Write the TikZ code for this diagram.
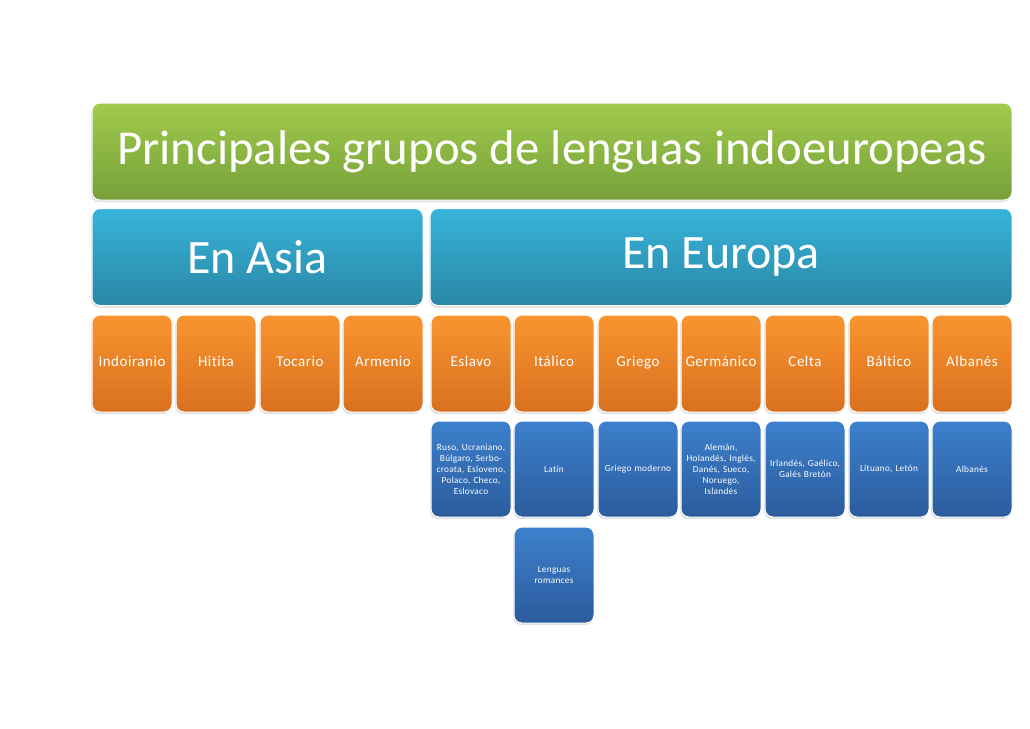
\documentclass[tikz,border=0pt]{standalone}
\usepackage{fontspec}
\setmainfont{Carlito}[Ligatures=NoCommon]
\usetikzlibrary{positioning,shadows}

\definecolor{greentop}{HTML}{A0CB4B}
\definecolor{greenbot}{HTML}{77A03A}
\definecolor{cyantop}{HTML}{37B4DA}
\definecolor{cyanbot}{HTML}{2A87A6}
\definecolor{orangetop}{HTML}{F9952F}
\definecolor{orangebot}{HTML}{D9701F}
\definecolor{bluetop}{HTML}{3D80CD}
\definecolor{bluebot}{HTML}{2B5C9D}

\tikzset{
    box/.style={rounded corners=8pt, draw=white, line width=1pt, text=white,
        inner sep=0pt, align=center, minimum height=97pt,
        drop shadow={opacity=0.25, shadow xshift=-1pt, shadow yshift=-2pt}},
    titlebox/.style={box, top color=greentop, bottom color=greenbot,
        minimum width=920pt, font=\fontsize{48.8}{58}\selectfont},
    regionbox/.style={box, top color=cyantop, bottom color=cyanbot,
        font=\fontsize{48}{58}\selectfont},
    groupbox/.style={box, top color=orangetop, bottom color=orangebot,
        minimum width=80pt, text height=0.8em, text depth=0.14em,
        font=\fontsize{15}{17}\selectfont\addfontfeature{LetterSpace=3.5}},
    langbox/.style={box, top color=bluetop, bottom color=bluebot,
        minimum width=80pt, minimum height=96pt, text width=78pt,
        font=\fontsize{9.3}{11}\selectfont\addfontfeature{LetterSpace=3}},
}

\begin{document}
\begin{tikzpicture}[x=1pt, y=-1pt]
    \useasboundingbox (0,0) rectangle (1030,728);

    % Title
    \node[titlebox] (title) at (552,151.5) {Principales grupos de lenguas indoeuropeas};

    % Regions
    \node[regionbox, minimum width=331pt] (asia) at (257.5,257) {En Asia};
    \node[regionbox, minimum width=582pt] (europa) at (721,257) {En Europa};

    % Groups
    \foreach \x/\n/\t in {132/indo/Indoiranio, 216/hitita/Hitita, 300/tocario/Tocario,
        383/armenio/Armenio, 471/eslavo/Eslavo, 554/italico/Itálico, 638/griego/Griego,
        721/germanico/Germánico, 805/celta/Celta, 889/baltico/Báltico, 972/albanes/Albanés} {
        \node[groupbox] (\n) at (\x,363.5) {\t};
    }

    % Languages
    \node[langbox, below=8pt of eslavo] (ruso) {Ruso, Ucraniano,\\ Búlgaro, Serbo-\\ croata, Esloveno,\\ Polaco, Checo,\\ Eslovaco};
    \node[langbox, below=8pt of italico] (latin) {Latín};
    \node[langbox, below=8pt of griego] (moderno) {Griego moderno};
    \node[langbox, below=8pt of germanico] (aleman) {Alemán,\\ Holandés, Inglés,\\ Danés, Sueco,\\ Noruego,\\ Islandés};
    \node[langbox, below=8pt of celta] (irlandes) {Irlandés, Gaélico,\\ Galés Bretón};
    \node[langbox, below=8pt of baltico] (lituano) {Lituano, Letón};
    \node[langbox, below=8pt of albanes] (albanesL) {Albanés};
    \node[langbox, below=9pt of latin] (romances) {Lenguas\\ romances};

\end{tikzpicture}
\end{document}
